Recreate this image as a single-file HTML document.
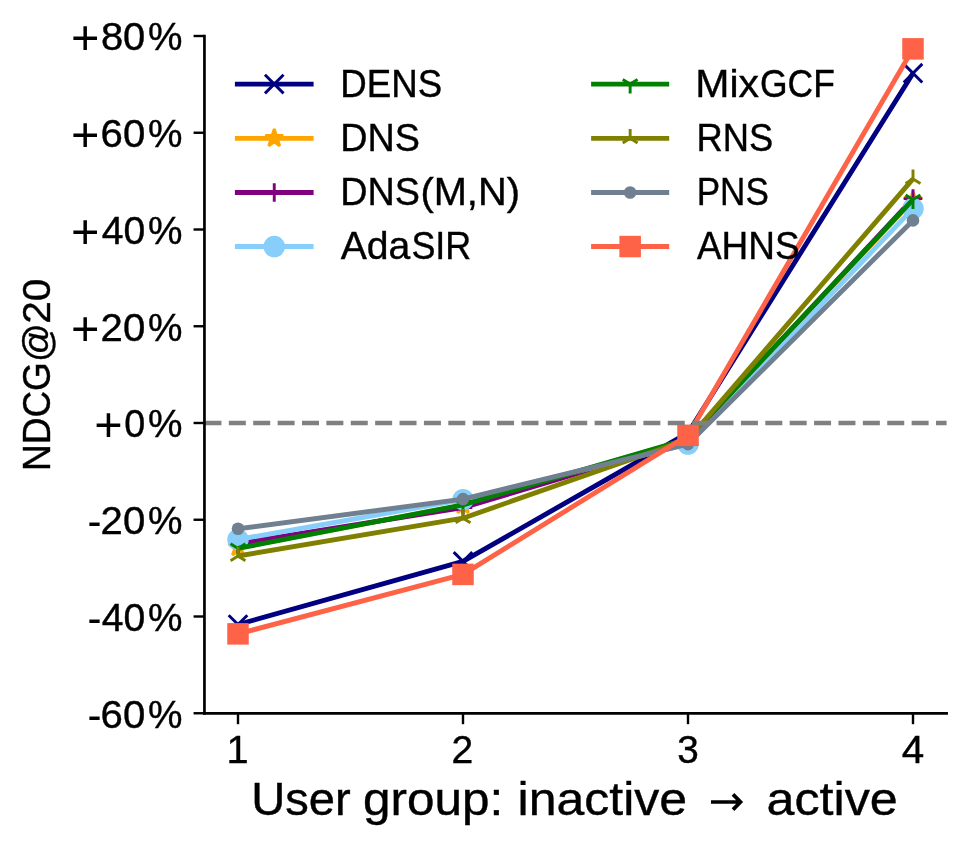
<!DOCTYPE html>
<html><head><meta charset="utf-8"><title>NDCG@20 by user group</title>
<style>html,body{margin:0;padding:0;background:#fff;}svg{display:block;will-change:transform;}text{font-family:"Liberation Sans",sans-serif;fill:#000;stroke:#000;stroke-width:0.4px;}</style></head><body>
<svg width="969" height="848" viewBox="0 0 969 848">
<rect width="969" height="848" fill="#fff"/>
<g><polyline points="238.00,624.50 463.00,561.40 688.00,433.00 913.00,73.20" fill="none" stroke="#000080" stroke-width="4.9" stroke-linejoin="round" stroke-linecap="butt"/>
<path d="M228.70,615.20L247.30,633.80M228.70,633.80L247.30,615.20" stroke="#000080" stroke-width="2.9" fill="none"/>
<path d="M453.70,552.10L472.30,570.70M453.70,570.70L472.30,552.10" stroke="#000080" stroke-width="2.9" fill="none"/>
<path d="M678.70,423.70L697.30,442.30M678.70,442.30L697.30,423.70" stroke="#000080" stroke-width="2.9" fill="none"/>
<path d="M903.70,63.90L922.30,82.50M903.70,82.50L922.30,63.90" stroke="#000080" stroke-width="2.9" fill="none"/>
</g>
<g><polyline points="238.00,547.50 463.00,505.30 688.00,439.30 913.00,200.40" fill="none" stroke="#ffa500" stroke-width="4.9" stroke-linejoin="round" stroke-linecap="butt"/>
<polygon points="238.00,538.20 240.09,544.63 246.84,544.63 241.38,548.60 243.47,555.02 238.00,551.05 232.53,555.02 234.62,548.60 229.16,544.63 235.91,544.63" fill="#ffa500" stroke="#ffa500" stroke-width="2.9" stroke-linejoin="bevel"/>
<polygon points="463.00,496.00 465.09,502.43 471.84,502.43 466.38,506.40 468.47,512.82 463.00,508.85 457.53,512.82 459.62,506.40 454.16,502.43 460.91,502.43" fill="#ffa500" stroke="#ffa500" stroke-width="2.9" stroke-linejoin="bevel"/>
<polygon points="688.00,430.00 690.09,436.43 696.84,436.43 691.38,440.40 693.47,446.82 688.00,442.85 682.53,446.82 684.62,440.40 679.16,436.43 685.91,436.43" fill="#ffa500" stroke="#ffa500" stroke-width="2.9" stroke-linejoin="bevel"/>
<polygon points="913.00,191.10 915.09,197.53 921.84,197.53 916.38,201.50 918.47,207.92 913.00,203.95 907.53,207.92 909.62,201.50 904.16,197.53 910.91,197.53" fill="#ffa500" stroke="#ffa500" stroke-width="2.9" stroke-linejoin="bevel"/>
</g>
<g><polyline points="238.00,543.60 463.00,507.60 688.00,440.50 913.00,198.60" fill="none" stroke="#800080" stroke-width="4.9" stroke-linejoin="round" stroke-linecap="butt"/>
<path d="M228.70,543.60L247.30,543.60M238.00,534.30L238.00,552.90" stroke="#800080" stroke-width="2.9" fill="none"/>
<path d="M453.70,507.60L472.30,507.60M463.00,498.30L463.00,516.90" stroke="#800080" stroke-width="2.9" fill="none"/>
<path d="M678.70,440.50L697.30,440.50M688.00,431.20L688.00,449.80" stroke="#800080" stroke-width="2.9" fill="none"/>
<path d="M903.70,198.60L922.30,198.60M913.00,189.30L913.00,207.90" stroke="#800080" stroke-width="2.9" fill="none"/>
</g>
<g><polyline points="238.00,539.50 463.00,499.70 688.00,444.10 913.00,208.60" fill="none" stroke="#87cefa" stroke-width="4.9" stroke-linejoin="round" stroke-linecap="butt"/>
<circle cx="238.00" cy="539.50" r="10.75" fill="#87cefa"/>
<circle cx="463.00" cy="499.70" r="10.75" fill="#87cefa"/>
<circle cx="688.00" cy="444.10" r="10.75" fill="#87cefa"/>
<circle cx="913.00" cy="208.60" r="10.75" fill="#87cefa"/>
</g>
<g><polyline points="238.00,548.40 463.00,504.80 688.00,439.00 913.00,199.60" fill="none" stroke="#008000" stroke-width="4.9" stroke-linejoin="round" stroke-linecap="butt"/>
<path d="M238.00,548.40L238.00,557.70M238.00,548.40L245.44,543.75M238.00,548.40L230.56,543.75" stroke="#008000" stroke-width="2.9" fill="none"/>
<path d="M463.00,504.80L463.00,514.10M463.00,504.80L470.44,500.15M463.00,504.80L455.56,500.15" stroke="#008000" stroke-width="2.9" fill="none"/>
<path d="M688.00,439.00L688.00,448.30M688.00,439.00L695.44,434.35M688.00,439.00L680.56,434.35" stroke="#008000" stroke-width="2.9" fill="none"/>
<path d="M913.00,199.60L913.00,208.90M913.00,199.60L920.44,194.95M913.00,199.60L905.56,194.95" stroke="#008000" stroke-width="2.9" fill="none"/>
</g>
<g><polyline points="238.00,556.00 463.00,518.20 688.00,439.50 913.00,178.90" fill="none" stroke="#808000" stroke-width="4.9" stroke-linejoin="round" stroke-linecap="butt"/>
<path d="M238.00,556.00L238.00,546.70M238.00,556.00L245.44,560.65M238.00,556.00L230.56,560.65" stroke="#808000" stroke-width="2.9" fill="none"/>
<path d="M463.00,518.20L463.00,508.90M463.00,518.20L470.44,522.85M463.00,518.20L455.56,522.85" stroke="#808000" stroke-width="2.9" fill="none"/>
<path d="M688.00,439.50L688.00,430.20M688.00,439.50L695.44,444.15M688.00,439.50L680.56,444.15" stroke="#808000" stroke-width="2.9" fill="none"/>
<path d="M913.00,178.90L913.00,169.60M913.00,178.90L920.44,183.55M913.00,178.90L905.56,183.55" stroke="#808000" stroke-width="2.9" fill="none"/>
</g>
<g><polyline points="238.00,528.80 463.00,499.10 688.00,444.10 913.00,220.40" fill="none" stroke="#708090" stroke-width="4.9" stroke-linejoin="round" stroke-linecap="butt"/>
<circle cx="238.00" cy="528.80" r="6.30" fill="#708090"/>
<circle cx="463.00" cy="499.10" r="6.30" fill="#708090"/>
<circle cx="688.00" cy="444.10" r="6.30" fill="#708090"/>
<circle cx="913.00" cy="220.40" r="6.30" fill="#708090"/>
</g>
<g><polyline points="238.00,633.85 463.00,574.40 688.00,435.30 913.00,48.85" fill="none" stroke="#ff6347" stroke-width="4.9" stroke-linejoin="round" stroke-linecap="butt"/>
<rect x="227.25" y="623.10" width="21.50" height="21.50" fill="#ff6347"/>
<rect x="452.25" y="563.65" width="21.50" height="21.50" fill="#ff6347"/>
<rect x="677.25" y="424.55" width="21.50" height="21.50" fill="#ff6347"/>
<rect x="902.25" y="38.10" width="21.50" height="21.50" fill="#ff6347"/>
</g>
<line x1="204.45" y1="423.0" x2="946.6" y2="423.0" stroke="#808080" stroke-width="4.6" stroke-dasharray="17.0 7.385"/>
<path d="M204.45,34.65L204.45,714.65" stroke="#000" stroke-width="2.7" fill="none"/>
<path d="M203.10,713.3L947.95,713.3" stroke="#000" stroke-width="2.7" fill="none"/>
<line x1="193.55" y1="36.00" x2="204.45" y2="36.00" stroke="#000" stroke-width="2.4"/>
<line x1="193.55" y1="132.75" x2="204.45" y2="132.75" stroke="#000" stroke-width="2.4"/>
<line x1="193.55" y1="229.50" x2="204.45" y2="229.50" stroke="#000" stroke-width="2.4"/>
<line x1="193.55" y1="326.25" x2="204.45" y2="326.25" stroke="#000" stroke-width="2.4"/>
<line x1="193.55" y1="423.00" x2="204.45" y2="423.00" stroke="#000" stroke-width="2.4"/>
<line x1="193.55" y1="519.75" x2="204.45" y2="519.75" stroke="#000" stroke-width="2.4"/>
<line x1="193.55" y1="616.50" x2="204.45" y2="616.50" stroke="#000" stroke-width="2.4"/>
<line x1="193.55" y1="713.25" x2="204.45" y2="713.25" stroke="#000" stroke-width="2.4"/>
<line x1="238.0" y1="713.3" x2="238.0" y2="724.20" stroke="#000" stroke-width="2.4"/>
<line x1="463.0" y1="713.3" x2="463.0" y2="724.20" stroke="#000" stroke-width="2.4"/>
<line x1="688.0" y1="713.3" x2="688.0" y2="724.20" stroke="#000" stroke-width="2.4"/>
<line x1="913.0" y1="713.3" x2="913.0" y2="724.20" stroke="#000" stroke-width="2.4"/>
<text transform="translate(70.97,54.45) scale(1.2413,1.2234)" font-size="39.20" style="stroke:none">+</text>
<text transform="translate(100.90,50.30) scale(1.0168,1)" font-size="39.24" >80</text>
<text transform="translate(148.04,50.30) scale(0.9881,1)" font-size="39.24" >%</text>
<text transform="translate(70.97,151.20) scale(1.2413,1.2234)" font-size="39.20" style="stroke:none">+</text>
<text transform="translate(100.59,147.05) scale(1.0242,1)" font-size="39.24" >60</text>
<text transform="translate(148.04,147.05) scale(0.9881,1)" font-size="39.24" >%</text>
<text transform="translate(70.97,247.95) scale(1.2413,1.2234)" font-size="39.20" style="stroke:none">+</text>
<text transform="translate(101.72,243.80) scale(0.9974,1)" font-size="39.24" >40</text>
<text transform="translate(148.04,243.80) scale(0.9881,1)" font-size="39.24" >%</text>
<text transform="translate(70.97,344.70) scale(1.2413,1.2234)" font-size="39.20" style="stroke:none">+</text>
<text transform="translate(100.59,340.55) scale(1.0242,1)" font-size="39.24" >20</text>
<text transform="translate(148.04,340.55) scale(0.9881,1)" font-size="39.24" >%</text>
<text transform="translate(94.37,441.45) scale(1.2413,1.2234)" font-size="39.20" style="stroke:none">+</text>
<text transform="translate(124.19,437.30) scale(0.9606,1)" font-size="39.24" >0</text>
<text transform="translate(148.04,437.30) scale(0.9881,1)" font-size="39.24" >%</text>
<text transform="translate(87.41,536.22) scale(1.0730,1.1521)" font-size="39.20" style="stroke:none">-</text>
<text transform="translate(100.59,534.05) scale(1.0242,1)" font-size="39.24" >20</text>
<text transform="translate(148.04,534.05) scale(0.9881,1)" font-size="39.24" >%</text>
<text transform="translate(87.41,632.97) scale(1.0730,1.1521)" font-size="39.20" style="stroke:none">-</text>
<text transform="translate(101.72,630.80) scale(0.9974,1)" font-size="39.24" >40</text>
<text transform="translate(148.04,630.80) scale(0.9881,1)" font-size="39.24" >%</text>
<text transform="translate(87.41,729.72) scale(1.0730,1.1521)" font-size="39.20" style="stroke:none">-</text>
<text transform="translate(100.59,727.55) scale(1.0242,1)" font-size="39.24" >60</text>
<text transform="translate(148.04,727.55) scale(0.9881,1)" font-size="39.24" >%</text>
<text transform="translate(226.62,763.20) scale(1.0134,1)" font-size="39.24" >1</text>
<text transform="translate(451.54,763.20) scale(0.9969,1)" font-size="39.24" >2</text>
<text transform="translate(677.35,763.20) scale(0.9871,1)" font-size="39.24" >3</text>
<text transform="translate(901.79,763.20) scale(1.0294,1)" font-size="39.24" >4</text>
<text transform="translate(251.25,815.20) scale(1.0361,1)" font-size="45.49" >User</text>
<text transform="translate(363.10,815.20) scale(1.0875,1)" font-size="45.49" >group:</text>
<text transform="translate(517.52,815.20) scale(1.0997,1)" font-size="45.49" >inactive</text>
<text transform="translate(766.56,815.20) scale(1.1047,1)" font-size="45.49" >active</text>
<path d="M711.0,802.0H741.0M733.0,794.4L740.5,802.0L733.0,809.6" stroke="#000" stroke-width="3.7" fill="none" stroke-linejoin="miter"/>
<text transform="translate(50.20,471.05) rotate(-90) scale(0.9434,1)" font-size="39.24">NDCG</text>
<text transform="translate(50.20,362.06) rotate(-90) scale(0.9743,1)" font-size="39.24">@</text>
<text transform="translate(50.20,323.73) rotate(-90) scale(1.0342,1)" font-size="39.24">20</text>
<g><line x1="234.9" y1="84.1" x2="313.6" y2="84.1" stroke="#000080" stroke-width="4.9"/>
<path d="M264.95,74.80L283.55,93.40M264.95,93.40L283.55,74.80" stroke="#000080" stroke-width="2.9" fill="none"/>
<text transform="translate(340.37,96.90) scale(0.9346,1)" font-size="39.24" >DENS</text>
</g>
<g><line x1="234.9" y1="138.35" x2="313.6" y2="138.35" stroke="#ffa500" stroke-width="4.9"/>
<polygon points="274.25,129.05 276.34,135.48 283.09,135.48 277.63,139.45 279.72,145.87 274.25,141.90 268.78,145.87 270.87,139.45 265.41,135.48 272.16,135.48" fill="#ffa500" stroke="#ffa500" stroke-width="2.9" stroke-linejoin="bevel"/>
<text transform="translate(340.28,150.90) scale(0.9627,1)" font-size="39.24" >DNS</text>
</g>
<g><line x1="234.9" y1="192.45" x2="313.6" y2="192.45" stroke="#800080" stroke-width="4.9"/>
<path d="M264.95,192.45L283.55,192.45M274.25,183.15L274.25,201.75" stroke="#800080" stroke-width="2.9" fill="none"/>
<text transform="translate(340.28,204.90) scale(0.9627,1)" font-size="39.24" >DNS</text>
<text transform="translate(420.41,204.90) scale(1.0150,1)" font-size="39.24" >(M,N)</text>
</g>
<g><line x1="234.9" y1="246.55" x2="313.6" y2="246.55" stroke="#87cefa" stroke-width="4.9"/>
<circle cx="274.25" cy="246.55" r="10.75" fill="#87cefa"/>
<text transform="translate(340.70,258.90) scale(0.9977,1)" font-size="39.24" >Ada</text>
<text transform="translate(411.38,258.90) scale(0.9157,1)" font-size="39.24" >SIR</text>
</g>
<g><line x1="591.1" y1="84.1" x2="669.2" y2="84.1" stroke="#008000" stroke-width="4.9"/>
<path d="M630.15,84.10L630.15,93.40M630.15,84.10L637.59,79.45M630.15,84.10L622.71,79.45" stroke="#008000" stroke-width="2.9" fill="none"/>
<text transform="translate(695.22,96.90) scale(1.0454,1)" font-size="39.24" >Mix</text>
<text transform="translate(760.03,96.90) scale(0.9032,1)" font-size="39.24" >GCF</text>
</g>
<g><line x1="591.1" y1="138.35" x2="669.2" y2="138.35" stroke="#808000" stroke-width="4.9"/>
<path d="M630.15,138.35L630.15,129.05M630.15,138.35L637.59,143.00M630.15,138.35L622.71,143.00" stroke="#808000" stroke-width="2.9" fill="none"/>
<text transform="translate(696.60,150.90) scale(0.9267,1)" font-size="39.24" >RNS</text>
</g>
<g><line x1="591.1" y1="192.45" x2="669.2" y2="192.45" stroke="#708090" stroke-width="4.9"/>
<circle cx="630.15" cy="192.45" r="6.30" fill="#708090"/>
<text transform="translate(696.71,204.90) scale(0.8937,1)" font-size="39.24" >PNS</text>
</g>
<g><line x1="591.1" y1="246.55" x2="669.2" y2="246.55" stroke="#ff6347" stroke-width="4.9"/>
<rect x="619.40" y="235.80" width="21.50" height="21.50" fill="#ff6347"/>
<text transform="translate(696.91,258.90) scale(0.9418,1)" font-size="39.24" >AHNS</text>
</g>
</svg></body></html>
